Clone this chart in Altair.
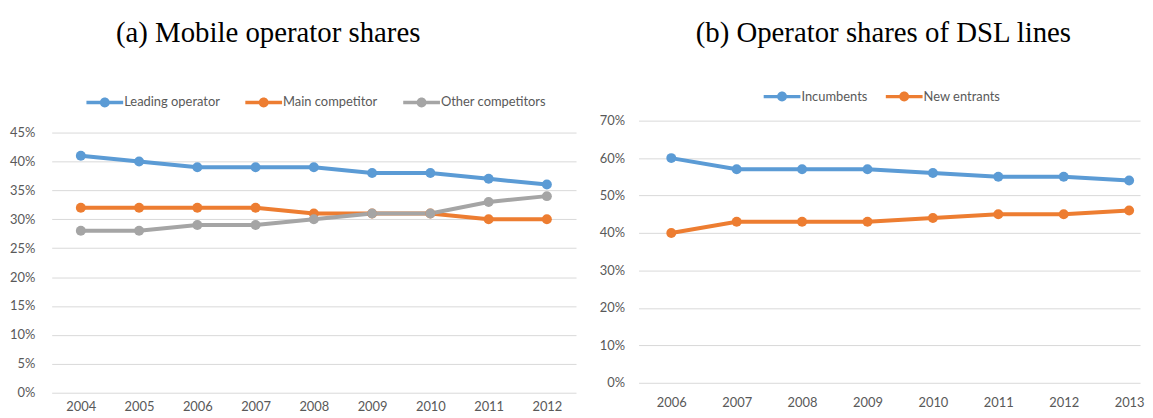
import altair as alt
import pandas as pd

# ---- Panel (a): mobile operator shares ----
years_a = [2004, 2005, 2006, 2007, 2008, 2009, 2010, 2011, 2012]
series_a = ["Leading operator", "Main competitor", "Other competitors"]
leading = [41, 40, 39, 39, 39, 38, 38, 37, 36]
main_comp = [32, 32, 32, 32, 31, 31, 31, 30, 30]
other_comp = [28, 28, 29, 29, 30, 31, 31, 33, 34]
colors_a = ["#5B9BD5", "#ED7D31", "#A5A5A5"]

# ---- Panel (b): operator shares of DSL lines ----
years_b = [2006, 2007, 2008, 2009, 2010, 2011, 2012, 2013]
series_b = ["Incumbents", "New entrants"]
incumbents = [60, 57, 57, 57, 56, 55, 55, 54]
new_entrants = [40, 43, 43, 43, 44, 45, 45, 46]
colors_b = ["#5B9BD5", "#ED7D31"]

ticks_a = [0, 0.05, 0.10, 0.15, 0.20, 0.25, 0.30, 0.35, 0.40, 0.45]
ticks_b = [0, 0.1, 0.2, 0.3, 0.4, 0.5, 0.6, 0.7]


def to_frame(years, names, values):
    rows = []
    for name, vals in zip(names, values):
        for yr, v in zip(years, vals):
            rows.append({"year": yr, "series": name, "label": name,
                         "share": v / 100.0})
    return pd.DataFrame(rows)


df_a = to_frame(years_a, series_a, [leading, main_comp, other_comp])
df_b = to_frame(years_b, series_b, [incumbents, new_entrants])

LABEL_FONT = "Lato"
LABEL_COLOR = "#595959"
GRID_COLOR = "#D9D9D9"
SYMBOL = ("M-1,-0.09L1,-0.09L1,0.09L-1,0.09Z "
          "M0.27,0A0.27,0.27 0 1,1 -0.27,0A0.27,0.27 0 1,1 0.27,0Z")


def panel(df, years, names, colors, ydom, yticks, xdom, width, height,
          title, title_dx, title_offset, legend_x, legend_offset, col_pad,
          ylab_pad, xlab_pad):
    x = alt.X("year:Q",
              scale=alt.Scale(domain=xdom, nice=False, zero=False),
              axis=alt.Axis(values=years, format="d", title=None, grid=False,
                            ticks=False, domain=False, labelFont=LABEL_FONT,
                            labelFontSize=13, labelColor=LABEL_COLOR,
                            labelPadding=xlab_pad))
    y = alt.Y("share:Q",
              scale=alt.Scale(domain=ydom, nice=False, zero=False),
              axis=alt.Axis(values=yticks, format=".0%", title=None,
                            grid=True, gridColor=GRID_COLOR, gridWidth=1,
                            ticks=False, domain=False, labelFont=LABEL_FONT,
                            labelFontSize=13, labelColor=LABEL_COLOR,
                            labelPadding=ylab_pad))
    # stroke scale uses the reversed order so it is not merged with the
    # (visible) fill legend
    lines = alt.Chart(df).mark_line(strokeWidth=4).encode(
        x=x, y=y,
        stroke=alt.Stroke("series:N",
                          scale=alt.Scale(domain=names[::-1],
                                          range=colors[::-1]),
                          legend=None),
    )
    legend = alt.Legend(title=".", titleOrient="left", titleFontSize=1,
                        titleOpacity=0, titlePadding=legend_x,
                        orient="top", direction="horizontal",
                        offset=legend_offset,
                        symbolType=SYMBOL, symbolSize=1369,
                        symbolStrokeWidth=0, symbolOpacity=1,
                        labelFont=LABEL_FONT, labelFontSize=13,
                        labelColor=LABEL_COLOR, labelOffset=1,
                        columnPadding=col_pad)
    pts = alt.Chart(df).mark_circle(size=100, opacity=1).encode(
        x=x, y=y,
        fill=alt.Fill("label:N",
                      scale=alt.Scale(domain=names, range=colors),
                      legend=legend),
    )
    return alt.layer(lines, pts).properties(
        width=width, height=height,
        title=alt.TitleParams(text=title, font="Liberation Serif", fontSize=29,
                              fontWeight="normal", color="black",
                              anchor="middle", dx=title_dx,
                              offset=title_offset),
    )


left = panel(df_a, years_a, series_a, colors_a, [0, 0.4706],
             ticks_a, [2003.5, 2012.5], 528, 274,
             "(a) Mobile operator shares", -46, 36, 34, 11, 25, 17, 8)
right = panel(df_b, years_b, series_b, colors_b, [-0.0265, 0.7],
              ticks_b, [2005.5, 2013.167], 505, 274,
              "(b) Operator shares of DSL lines", -6, 30, 125, 17, 18, 14, 4)

chart = alt.hconcat(left, right, spacing=23).resolve_scale(
    fill="independent", stroke="independent"
).resolve_legend(fill="independent", stroke="independent").properties(
    padding={"left": 1, "top": 10, "right": 0, "bottom": 0},
    background="white",
).configure_view(stroke=None)

chart.save("out.html", embed_options={"renderer": "svg", "actions": False})
